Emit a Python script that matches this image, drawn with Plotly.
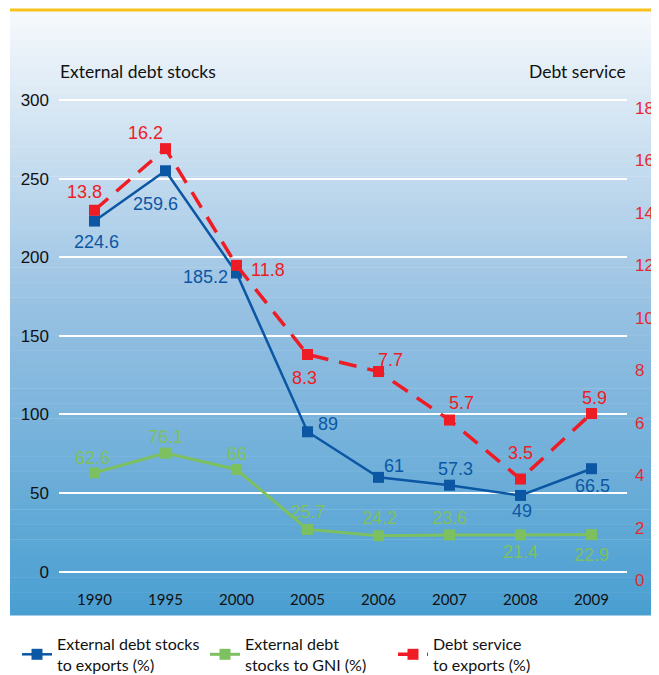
import plotly.graph_objects as go

# categories and series (plotted positions, labels as printed)
years = ["1990", "1995", "2000", "2005", "2006", "2007", "2008", "2009"]

exports_vals = [223, 255, 190, 89, 60, 55, 48.5, 65.5]
exports_labels = ["224.6", "259.6", "185.2", "89", "61", "57.3", "49", "66.5"]

gni_vals = [62.9, 75.4, 65, 26.9, 22.9, 23.4, 23.4, 23.6]
gni_labels = ["62.6", "76.1", "66", "25.7", "24.2", "23.6", "21.4", "22.9"]

service_vals = [14.1, 16.45, 12.0, 8.6, 7.95, 6.1, 3.85, 6.35]
service_labels = ["13.8", "16.2", "11.8", "8.3", "7.7", "5.7", "3.5", "5.9"]

left_ticks = [0, 50, 100, 150, 200, 250, 300]
right_ticks = [0, 2, 4, 6, 8, 10, 12, 14, 16, 18]

BLUE = "#0b57a4"
GREEN = "#7dc060"
RED = "#ee1c25"
NUM_FONT = "Liberation Sans, Arial, sans-serif"
TXT_FONT = "Lato, Open Sans, sans-serif"

# label offsets in px (dx, dy)
blue_off = [(2, -21), (-10, -33), (-31, -4), (20, 8), (15, 11), (6, 16), (1, -16), (1, -17)]
red_off = [(-10, 18), (-20, 16), (31, -5), (-3, -24), (12, 12), (12, 17), (0, 26), (3, 15)]
green_off = [(-2, 15), (0, 16), (0, 16), (0, 17), (1, 18), (0, 17), (0, -17), (0, -20)]

W, H = 651, 667
L, R, T, B = 51, 32, 86, 93
pw, ph = W - L - R, H - T - B


def px(x):
    return (x - L) / pw


def py(y):
    return (H - B - y) / ph


fig = go.Figure()
fig.add_trace(go.Scatter(
    x=years, y=exports_vals, mode="lines+markers",
    name="External debt stocks<br>to exports (%)",
    line=dict(color=BLUE, width=2.5),
    marker=dict(symbol="square", size=11, color=BLUE)))
fig.add_trace(go.Scatter(
    x=years, y=gni_vals, mode="lines+markers",
    name="External debt<br>stocks to GNI (%)",
    line=dict(color=GREEN, width=3),
    marker=dict(symbol="square", size=11, color=GREEN)))
fig.add_trace(go.Scatter(
    x=years, y=service_vals, mode="lines+markers", yaxis="y2",
    name="Debt service<br>to exports (%)",
    line=dict(color=RED, width=3.5, dash="18px,11px"),
    marker=dict(symbol="square", size=11, color=RED)))

annotations = []
for vals, labels, offs, col, yref in [
        (exports_vals, exports_labels, blue_off, BLUE, "y"),
        (gni_vals, gni_labels, green_off, GREEN, "y"),
        (service_vals, service_labels, red_off, RED, "y2")]:
    for i, (v, t, (dx, dy)) in enumerate(zip(vals, labels, offs)):
        annotations.append(dict(x=i, y=v, xref="x", yref=yref, text=t,
                                showarrow=False, xshift=dx, yshift=dy,
                                font=dict(family=NUM_FONT, size=18, color=col)))

annotations += [
    dict(x=px(50), y=py(64), xref="paper", yref="paper", text="External debt stocks",
         showarrow=False, xanchor="left", yanchor="middle",
         font=dict(family=TXT_FONT, size=17.5, color="#111")),
    dict(x=px(620), y=py(64), xref="paper", yref="paper", text="Debt service",
         showarrow=False, xanchor="right", yanchor="middle",
         font=dict(family=TXT_FONT, size=17.5, color="#111")),
]

# gradient panel behind the plot
top_c = (246, 249, 252)
mid_c = (150, 192, 226)
bot_c = (74, 159, 209)
y_top, y_bot = py(2), py(607)
x_l, x_r = px(2), px(W + 10)
n = 80
shapes = []
for i in range(n):
    f = i / (n - 1)
    if f < 0.5:
        g = f / 0.5
        c = [round(a + (b - a) * g) for a, b in zip(top_c, mid_c)]
    else:
        g = (f - 0.5) / 0.5
        c = [round(a + (b - a) * g) for a, b in zip(mid_c, bot_c)]
    y0 = y_top - (y_top - y_bot) * i / n
    y1 = y_top - (y_top - y_bot) * (i + 1) / n
    shapes.append(dict(type="rect", xref="paper", yref="paper",
                       x0=x_l, x1=x_r, y0=y1 - 0.001, y1=y0,
                       fillcolor="rgb(%d,%d,%d)" % tuple(c),
                       line=dict(width=0), layer="below"))
shapes.append(dict(type="line", xref="paper", yref="paper",
                   x0=x_l, x1=x_r, y0=y_top, y1=y_top,
                   line=dict(color="#f7c21b", width=3), layer="below"))

fig.update_layout(
    width=W, height=H,
    margin=dict(l=L, r=R, t=T, b=B, autoexpand=False),
    paper_bgcolor="white", plot_bgcolor="rgba(0,0,0,0)",
    showlegend=True,
    legend=dict(orientation="h", x=px(9), y=py(619), xanchor="left", yanchor="top",
                entrywidth=143, bgcolor="rgba(0,0,0,0)",
                font=dict(family=TXT_FONT, size=16, color="#111")),
    xaxis=dict(type="category", range=[-0.5, 7.5], showgrid=False,
               zeroline=False, showline=False, ticks="", ticklabelstandoff=7,
               tickfont=dict(family=TXT_FONT, size=15, color="#111")),
    yaxis=dict(range=[-6.55, 303.82], tickvals=left_ticks, showgrid=True,
               gridcolor="white", gridwidth=1.5, zeroline=False, showline=False,
               ticklabelstandoff=9,
               tickfont=dict(family=NUM_FONT, size=17, color="#111")),
    yaxis2=dict(overlaying="y", side="right", range=[-0.076, 18.534],
                tickvals=right_ticks, showgrid=False, zeroline=False,
                showline=False, ticklabelstandoff=7,
                tickfont=dict(family=NUM_FONT, size=17, color="#e8272f")),
    annotations=annotations,
    shapes=shapes,
)

fig.write_html("out.html")
